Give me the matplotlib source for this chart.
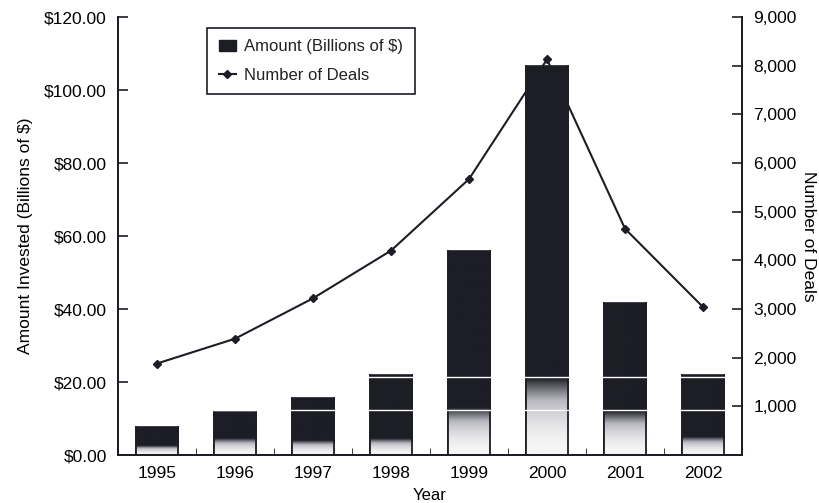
import numpy as np
import matplotlib.pyplot as plt
from matplotlib.colors import LinearSegmentedColormap
from matplotlib.patches import Patch
from matplotlib.lines import Line2D

years = ["1995", "1996", "1997", "1998", "1999", "2000", "2001", "2002"]
amount = [7.7, 11.8, 15.6, 22.0, 55.8, 106.5, 41.7, 21.9]
deals = [1880, 2390, 3220, 4200, 5670, 8130, 4650, 3040]

ink = "#1d1d26"
plt.rcParams["font.family"] = ["Liberation Sans", "DejaVu Sans"]
plt.rcParams["text.color"] = "#222222"

fig = plt.figure(figsize=(8.19, 5.03), dpi=100)
ax = fig.add_axes([0.1441, 0.0954, 0.7619, 0.8708])
ax2 = ax.twinx()

x = np.arange(len(years))
bars = ax.bar(x, amount, width=0.55, color=ink, edgecolor=ink, linewidth=1.2, zorder=2)

# light bottom of each bar fading into the dark fill
fade = [2.5, 4.5, 4.0, 4.5, 13.0, 21.0, 12.0, 5.0]
cmap = LinearSegmentedColormap.from_list("fade", ["#f6f6f6", "#b8b8c0", ink])
for b, f in zip(bars, fade):
    x0, w, h = b.get_x(), b.get_width(), b.get_height()
    yy = np.linspace(0, h, 300)[:, None]
    grad = np.clip(yy / f, 0, 1) ** 2
    im = ax.imshow(grad, cmap=cmap, vmin=0, vmax=1, origin="lower", aspect="auto",
                   extent=[x0, x0 + w, 0, h], zorder=2.1, interpolation="bilinear")
    im.set_clip_path(b)
    ax.plot([x0, x0], [0, h], color=ink, lw=1.3, zorder=2.2)
    ax.plot([x0 + w, x0 + w], [0, h], color=ink, lw=1.3, zorder=2.2)

for yl in (12.3, 21.4):
    ax.axhline(yl, color="white", lw=1.0, zorder=2.5)

ax.set_xlim(-0.5, len(years) - 0.5)
ax.set_ylim(0, 120)
ax.set_yticks(np.arange(0, 121, 20))
ax.set_yticklabels([f"${v:.2f}" for v in np.arange(0, 121, 20)])
ax.set_xticks(x)
ax.set_xticklabels(years)
ax.set_xticks(np.arange(0.5, len(years) - 1, 1), minor=True)
ax.tick_params(axis="x", which="major", length=0, labelsize=12.5, pad=8)
ax.tick_params(axis="x", which="minor", direction="in", length=5, color=ink)
ax.tick_params(axis="y", direction="in", length=7, width=1.2, color=ink, labelsize=12.5, pad=8)
ax.set_ylabel("Amount Invested (Billions of $)", fontsize=12.5, labelpad=8)
ax.set_xlabel("Year", fontsize=12, labelpad=5)

ax2.plot(x, deals, color=ink, lw=1.5, marker="D", markersize=4.5, zorder=3)
ax2.set_ylim(0, 9000)
ax2.set_yticks(np.arange(1000, 9001, 1000))
ax2.set_yticklabels([f"{v:,}" for v in range(1000, 9001, 1000)])
ax2.tick_params(axis="y", direction="in", length=7, width=1.2, color=ink, labelsize=12.5, pad=8)
ax2.set_ylabel("Number of Deals", fontsize=12.5, rotation=-90, labelpad=14)

for a in (ax, ax2):
    a.spines["top"].set_visible(False)
    for s in ("left", "right", "bottom"):
        a.spines[s].set_color(ink)
        a.spines[s].set_linewidth(1.4)

handles = [Patch(facecolor=ink, edgecolor=ink),
           Line2D([], [], color=ink, lw=1.5, marker="D", markersize=4.5)]
leg = ax2.legend(handles, ["Amount (Billions of $)", "Number of Deals"],
                 loc="upper left", bbox_to_anchor=(0.13, 0.995), fontsize=12,
                 fancybox=False, framealpha=1, edgecolor=ink,
                 handlelength=1.0, handletextpad=0.5, borderpad=0.7, labelspacing=0.8)
leg.get_frame().set_linewidth(1.2)

fig.savefig("out.png", dpi=100)
